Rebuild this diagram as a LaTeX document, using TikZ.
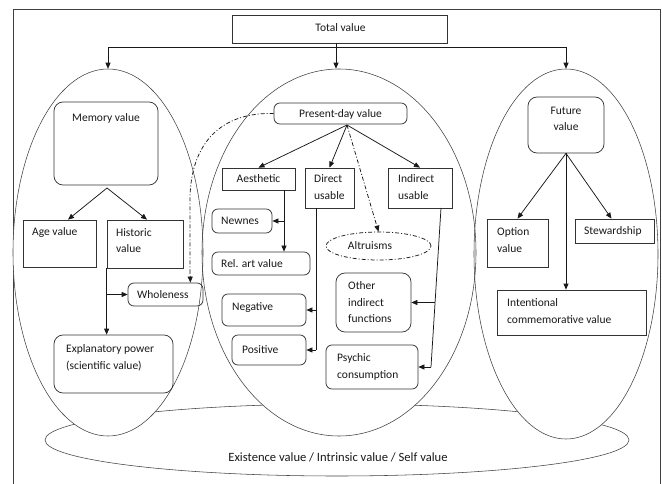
\documentclass[tikz,border=0pt]{standalone}
\usepackage{fontspec}
\setmainfont{Carlito}
\usetikzlibrary{arrows.meta,shapes.geometric,fit,calc}
\begin{document}
\begin{tikzpicture}[x=1pt,y=-1pt,
  every node/.style={font=\fontsize{11.5}{16.5}\selectfont, text=black!90},
  sq/.style={draw=black!80, line width=0.75pt, inner sep=0pt, fit={#1}},
  rd/.style={draw=black!80, line width=0.75pt, inner sep=0pt, rounded corners=6pt, fit={#1}},
  tx/.style={anchor=west, align=left, inner sep=0pt},
  tc/.style={anchor=center, align=center, inner sep=0pt},
  ell/.style={draw=black!75, line width=0.55pt, ellipse, inner sep=0pt},
  arr/.style={draw=black!90, line width=0.75pt, -{Triangle[length=6pt,width=5pt]}},
  ln/.style={draw=black!90, line width=0.75pt},
  dd/.style={draw=black!90, line width=0.75pt, dash pattern=on 4pt off 2pt on 1pt off 2pt}
  ]
\useasboundingbox (0,0) rectangle (662,484);
% frame
\draw[black!75, line width=0.75pt] (13,490) -- (13,9) -- (660,9) -- (660,490);

% bottom ellipse
\node[ell, minimum width=584pt, minimum height=72pt] (B) at (337,440) {};
% white fills of tall ellipses
\fill[white] (108,252.5) ellipse [x radius=95, y radius=183.5];
\fill[white] (339,252.5) ellipse [x radius=137, y radius=183.5];
\fill[white] (566,254) ellipse [x radius=92, y radius=185];
% tall ellipses
\node[ell, minimum width=190pt, minimum height=367pt] (L) at (108,252.5) {};
\node[ell, minimum width=274pt, minimum height=367pt] (M) at (339,252.5) {};
\node[ell, minimum width=184pt, minimum height=370pt] (R) at (566,254) {};

% total value
\node[sq={(232,15)(447,43)}] (total) {};
\node[tc] (totalt) at (340.5,28) {Total value};
\coordinate (hj) at (336,47);
\draw[ln] (total.south -| hj) -- (hj);
\draw[arr] (hj) -| (L.north);
\draw[arr] (hj) -| (R.north);
\draw[arr] (hj) -- (hj |- M.north);

% ---------- left ----------
\node[rd={(54,102)(158,185)}, rounded corners=9pt] (mem) {};
\node[tc] (memt) at (106,118) {Memory value};
\node[sq={(23,220)(96,267)}] (age) {};
\node[tx] (aget) at (32,232) {Age value};
\node[sq={(107,220)(183,268)}] (hist) {};
\node[tx] (histt) at (116,240.5) {Historic\\value};
\node[rd={(128,283)(203,306)}] (whole) {};
\node[tx] (wholet) at (137,295) {Wholeness};
\node[rd={(54,335)(173,393)}, rounded corners=9pt] (expl) {};
\node[tx] (explt) at (66,358) {Explanatory power\\(scientific value)};

\coordinate (mb) at (107,188);
\draw[arr] (mb) -- ($(age.north)+(8.5,0)$);
\draw[arr] (mb) -- ($(hist.north)+(2,0)$);
\draw[arr] (hist.south west) -- (hist.south west |- expl.north);
\draw[arr] (hist.south west |- whole.west) -- (whole.west);

% ---------- middle ----------
\node[rd={(274,103)(407,124)}] (pres) {};
\node[tc] (prest) at (340.5,114) {Present-day value};
\node[sq={(222,168)(295,190)}] (aes) {};
\node[tc] (aest) at (258.5,179) {Aesthetic};
\node[sq={(305,168)(354,208)}] (dir) {};
\node[tx] (dirt) at (314,187) {Direct\\usable};
\node[sq={(388,168)(452,208)}] (ind) {};
\node[tx] (indt) at (398,187) {Indirect\\usable};
\node[rd={(212,209)(272,233)}] (newn) {};
\node[tx] (newnt) at (221,221) {Newnes};
\node[rd={(212,252)(310,275)}] (rel) {};
\node[tx] (relt) at (221,264) {Rel. art value};
\node[rd={(222,294)(306,326)}] (neg) {};
\node[tx] (negt) at (232,308) {Negative};
\node[rd={(232,335)(306,365)}] (pos) {};
\node[tx] (post) at (242,350) {Positive};
\node[ell, draw=black!90, line width=0.75pt, dash pattern=on 4pt off 2pt on 1pt off 2pt, minimum width=105pt, minimum height=28pt] (altr) at (378.5,246) {};
\node[tc] (altrt) at (370,246) {Altruisms};
\node[rd={(336,273)(411,332)}, rounded corners=9pt] (oth) {};
\node[tx] (otht) at (348,302.5) {Other\\indirect\\functions};
\node[rd={(326,345)(418,389)}] (psy) {};
\node[tx] (psyt) at (337,367) {Psychic\\consumption};

% dash-dot to Wholeness
\coordinate (wh) at ($(whole.north east)+(-13,0)$);
\draw[dd] (pres.west) .. controls (215,112) and (190,150) .. (190,200) -- (190,270);
\draw[dd, -{Triangle[length=6pt,width=5pt]}] (190,270) -- (wh);

\coordinate (pb) at (347,125);
\draw[arr] (pb) -- (aes.north);
\draw[arr] (pb) -- (dir.north);
\draw[arr] (pb) -- (ind.north);
\draw[dd, -{Triangle[length=6pt,width=5pt]}] (pb) -- (altr.north);

\coordinate (a1) at (284,190);
\draw[arr] (a1) -- (a1 |- rel.north);
\draw[arr] (a1 |- newn.east) -- (newn.east);

\coordinate (d1) at (316,208);
\draw[ln] (d1) -- (d1 |- pos.east);
\draw[arr] (d1 |- neg.east) -- (neg.east);
\draw[arr] (d1 |- pos.east) -- (pos.east);

\coordinate (i1) at (441,208);
\coordinate (i2) at (431,367);
\coordinate (i3) at (435,302.5);
\draw[ln] (i1) -- (i2);
\draw[arr] (i2) -- (psy.east);
\draw[arr] (i3) -- (oth.east);

% ---------- right ----------
\node[rd={(528,97)(604,153)}, rounded corners=9pt] (fut) {};
\node[tc] (futt) at (566,119) {Future\\value};
\node[sq={(487,219)(548,267)}] (opt) {};
\node[tx] (optt) at (497,240) {Option\\value};
\node[sq={(575,219)(654,243)}] (stew) {};
\node[tx] (stewt) at (584,231) {Stewardship};
\node[sq={(497,290)(646,335)}] (intc) {};
\node[tx] (intt) at (507,311) {Intentional\\commemorative value};

\draw[arr] (fut.south) -- (opt.north);
\draw[arr] (fut.south) -- ($(stew.north)+(-3,0)$);
\draw[arr] (fut.south) -- (fut.south |- intc.north);

% existence text
\node[tc, font=\fontsize{12.6}{16}\selectfont] (bt) at (338,457) {Existence value / Intrinsic value / Self value};
\end{tikzpicture}
\end{document}
